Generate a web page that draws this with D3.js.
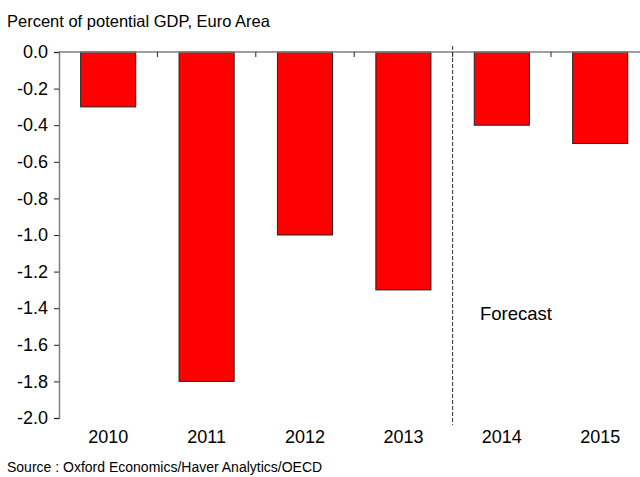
<!DOCTYPE html>
<html><head><meta charset="utf-8">
<script src="https://cdn.jsdelivr.net/npm/d3@7"></script>
<style>body{margin:0;background:#fff}svg{display:block;font-family:"Liberation Sans",Arial,sans-serif}</style>
</head><body><svg id="c" width="640" height="477"></svg>
<script>
const categories = ["2010","2011","2012","2013","2014","2015"];
const values = [-0.3, -1.8, -1.0, -1.3, -0.4, -0.5];
const yTicks = [0.0,-0.2,-0.4,-0.6,-0.8,-1.0,-1.2,-1.4,-1.6,-1.8,-2.0];
const subtitle = "Percent of potential GDP, Euro Area";
const source = "Source : Oxford Economics/Haver Analytics/OECD";
const forecastLabel = "Forecast";
const forecastStart = "2014";

(function(){
const svg = d3.select("#c");
const pL = 59, pR = 649.4, pT = 52, pB = 418;
const x = d3.scaleBand().domain(categories).range([pL, pR]).paddingInner(0.44).paddingOuter(0.22);
const y = d3.scaleLinear().domain([0, -2]).range([pT, pB]);
const step = x.step();
const axisColor = "#7f7f7f";

// bars
svg.append("g").selectAll("rect").data(values).join("rect")
  .attr("x", (d,i) => x(categories[i]))
  .attr("y", y(0))
  .attr("width", x.bandwidth())
  .attr("height", d => y(d) - y(0))
  .attr("fill", "#ff0000")
  .attr("stroke", "#222")
  .attr("stroke-width", 1);

// y axis
const yAxis = d3.axisLeft(y).tickValues(yTicks).tickSize(5).tickPadding(6)
  .tickFormat(d => d3.format(".1f")(d).replace("\u2212","-"));
const gy = svg.append("g").attr("transform", `translate(${pL},0)`).call(yAxis);
gy.select(".domain").attr("stroke", axisColor).attr("stroke-width", 1.5);
gy.selectAll(".tick line").attr("stroke", "#222").attr("stroke-width", 1);
gy.selectAll(".tick text").attr("font-size", 18).attr("fill", "#000")
  .attr("font-family", "Liberation Sans, Arial, sans-serif");
gy.selectAll(".tick text").filter(d => d === 0).text("0.0");

// zero line (category axis at top)
svg.append("line").attr("x1", pL).attr("x2", 640).attr("y1", y(0)).attr("y2", y(0))
  .attr("stroke", axisColor).attr("stroke-width", 1.5);
svg.append("g").selectAll("line").data(d3.range(1, categories.length)).join("line")
  .attr("x1", i => pL + i*step).attr("x2", i => pL + i*step)
  .attr("y1", y(0)).attr("y2", y(0) + 5)
  .attr("stroke", "#222").attr("stroke-width", 1);

// category labels
svg.append("g").selectAll("text").data(categories).join("text")
  .attr("x", d => x(d) + x.bandwidth()/2)
  .attr("y", 443)
  .attr("text-anchor", "middle")
  .attr("font-size", 18)
  .text(d => d);

// forecast divider
const fx = pL + categories.indexOf(forecastStart) * step;
svg.append("line").attr("x1", fx).attr("x2", fx).attr("y1", pT - 6).attr("y2", 425)
  .attr("stroke", "#333").attr("stroke-width", 1).attr("stroke-dasharray", "4,2");
svg.append("text").attr("x", 480).attr("y", 320).attr("font-size", 18.5).text(forecastLabel);

// texts
svg.append("text").attr("x", 7).attr("y", 27).attr("font-size", 16.5).text(subtitle);
svg.append("text").attr("x", 7).attr("y", 472).attr("font-size", 14).text(source);
})();
</script></body></html>
